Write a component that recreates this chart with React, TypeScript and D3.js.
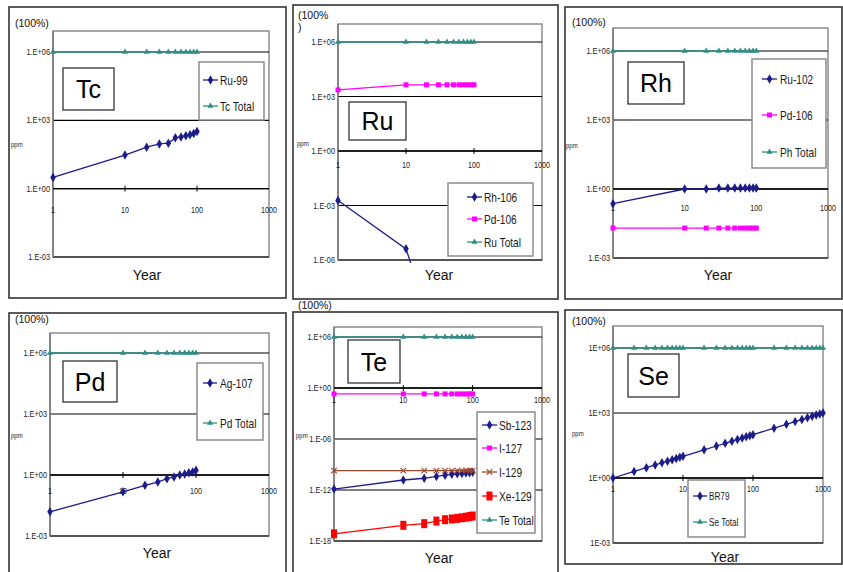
import React from 'react';
import * as d3 from 'd3';

// ---- shared axes ----
const years = [1, 10, 20, 30, 40, 50, 60, 70, 80, 90, 100];
const seYears = [1, 2, 3, 4, 5, 6, 7, 8, 9, 10, 20, 30, 40, 50, 60, 70, 80, 90, 100, 200, 300, 400, 500, 600, 700, 800, 900, 1000];
const xTicks = [1, 10, 100, 1000];
const xTickLabels = ['1', '10', '100', '1000'];

const yTicks3 = [1e6, 1e3, 1, 1e-3];
const yLabels3 = ['1.E+06', '1.E+03', '1.E+00', '1.E-03'];
const ruYTicks = [1e6, 1e3, 1, 1e-3, 1e-6];
const ruYLabels = ['1.E+06', '1.E+03', '1.E+00', '1.E-03', '1.E-06'];
const teYTicks = [1e6, 1, 1e-6, 1e-12, 1e-18];
const teYLabels = ['1.E+06', '1.E+00', '1.E-06', '1.E-12', '1.E-18'];
const seYLabels = ['1E+06', '1E+03', '1E+00', '1E-03'];

// ---- Tc ----
const tcTotal = [1e6, 1e6, 1e6, 1e6, 1e6, 1e6, 1e6, 1e6, 1e6, 1e6, 1e6];
const ru99 = [3.1, 30, 66, 92, 99, 170, 187, 208, 231, 263, 324];

// ---- Ru ----
const ruTotal = [1e6, 1e6, 1e6, 1e6, 1e6, 1e6, 1e6, 1e6, 1e6, 1e6, 1e6];
const pd106Ru = [2300, 4400, 4400, 4400, 4400, 4400, 4400, 4400, 4400, 4400, 4400];
const rh106Years = [1, 10, 20];
const rh106 = [1.9e-3, 4.1e-6, 1.7e-9];

// ---- Rh ----
const rhTotal = [1e6, 1e6, 1e6, 1e6, 1e6, 1e6, 1e6, 1e6, 1e6, 1e6, 1e6];
const ru102 = [0.23, 1.0, 1.0, 1.1, 1.1, 1.1, 1.1, 1.1, 1.1, 1.1, 1.1];
const pd106Rh = [0.02, 0.02, 0.02, 0.02, 0.02, 0.02, 0.02, 0.02, 0.02, 0.02, 0.02];

// ---- Pd ----
const pdTotal = [1e6, 1e6, 1e6, 1e6, 1e6, 1e6, 1e6, 1e6, 1e6, 1e6, 1e6];
const ag107 = [0.0155, 0.15, 0.31, 0.45, 0.66, 0.8, 1.0, 1.12, 1.3, 1.4, 1.7];

// ---- Te ----
const teTotal = [1e6, 1e6, 1e6, 1e6, 1e6, 1e6, 1e6, 1e6, 1e6, 1e6, 1e6];
const i127 = [0.2, 0.2, 0.2, 0.2, 0.2, 0.2, 0.2, 0.2, 0.2, 0.2, 0.2];
const i129 = [1.9e-10, 1.9e-10, 1.9e-10, 1.9e-10, 1.9e-10, 1.9e-10, 1.9e-10, 1.9e-10, 1.9e-10, 1.9e-10, 1.9e-10];
const sb123 = [1.3e-12, 1.5e-11, 2.4e-11, 4e-11, 5.5e-11, 7e-11, 8e-11, 9e-11, 1e-10, 1.1e-10, 1.2e-10];
const xe129 = [7e-18, 7e-17, 1.1e-16, 2.2e-16, 3.2e-16, 3.9e-16, 4.6e-16, 5.4e-16, 6.3e-16, 7.5e-16, 8.7e-16];

// ---- Se ----
const seTotal = seYears.map(() => 1e6);
const br79 = [1, 2, 3, 4, 5, 6, 7, 8, 9, 10, 20, 30, 40, 50, 60, 70, 80, 90, 100, 200, 300, 400, 500, 600, 700, 800, 900, 1000];

const NAVY = '#1c1c8a';
const TEAL = '#2f8f85';
const MAGENTA = '#ff00ff';
const BROWN = '#9c4a2c';
const RED = '#ff0000';

const ARIAL = "'Liberation Sans', Arial, sans-serif";

type MarkerKind = 'diamond' | 'triangle' | 'square' | 'bigsquare' | 'x';

interface Series {
  label: string;
  xs: number[];
  ys: number[];
  color: string;
  marker: MarkerKind;
}

type Box = [number, number, number, number];

interface PanelCfg {
  id: string;
  frame: Box;
  plot: Box;
  yLo: number;
  yLoPx: number;
  yHi: number;
  yHiPx: number;
  yTicks: number[];
  yLabels: string[];
  xLabelDy: number;
  pct: { x: number; y: number; lines: string[] };
  ppm: [number, number];
  year: [number, number];
  tag: { text: string; box: Box };
  legend: { box: Box; rows: number[]; lineX: [number, number]; textX: number; fontSize: number };
  series: Series[];
}

const diamondPath = d3.symbol().type(d3.symbolDiamond).size(26)() || '';
const trianglePath = d3.symbol().type(d3.symbolTriangle).size(16)() || '';
const timesPath = d3.symbol().type(d3.symbolTimes).size(22)() || '';

// condensed text (the original uses a narrow Japanese UI font)
const Narrow: React.FC<{
  x: number;
  y: number;
  size: number;
  sx?: number;
  anchor?: 'start' | 'middle' | 'end';
  dy?: string;
  children: React.ReactNode;
}> = ({ x, y, size, sx = 0.8, anchor = 'start', dy, children }) => (
  <text
    transform={`translate(${x},${y}) scale(${sx},1)`}
    textAnchor={anchor}
    dy={dy}
    fontFamily={ARIAL}
    fontSize={size}
    fill="#1a1a1a"
  >
    {children}
  </text>
);

const Marker: React.FC<{ kind: MarkerKind; x: number; y: number; color: string }> = ({ kind, x, y, color }) => {
  const t = `translate(${x},${y})`;
  if (kind === 'diamond') return <path d={diamondPath} transform={t} fill={color} />;
  if (kind === 'triangle') return <path d={trianglePath} transform={t} fill={color} />;
  if (kind === 'square') return <rect x={x - 2.5} y={y - 2.5} width={5} height={5} fill={color} />;
  if (kind === 'bigsquare') return <rect x={x - 3} y={y - 4.5} width={6} height={9} fill={color} />;
  return <path d={timesPath} transform={t} fill="none" stroke={color} strokeWidth={1.1} />;
};

const panels: PanelCfg[] = [
  {
    id: 'tc',
    frame: [9, 7, 286, 298],
    plot: [53, 31, 269, 257],
    yLo: 1e-3, yLoPx: 257, yHi: 1e6, yHiPx: 52,
    yTicks: yTicks3, yLabels: yLabels3,
    xLabelDy: 24,
    pct: { x: 15, y: 27, lines: ['(100%)'] },
    ppm: [11, 147],
    year: [147, 280],
    tag: { text: 'Tc', box: [63, 68, 114, 110] },
    legend: { box: [199, 62, 264, 120], rows: [80, 106], lineX: [203, 218], textX: 220, fontSize: 13 },
    series: [
      { label: 'Ru-99', xs: years, ys: ru99, color: NAVY, marker: 'diamond' },
      { label: 'Tc Total', xs: years, ys: tcTotal, color: TEAL, marker: 'triangle' },
    ],
  },
  {
    id: 'ru',
    frame: [293, 5, 558, 299],
    plot: [338, 24, 542, 260],
    yLo: 1e-6, yLoPx: 260, yHi: 1e6, yHiPx: 42,
    yTicks: ruYTicks, yLabels: ruYLabels,
    xLabelDy: 17,
    pct: { x: 298, y: 19, lines: ['(100%', ')'] },
    ppm: [297, 146],
    year: [439, 280],
    tag: { text: 'Ru', box: [349, 102, 406, 140] },
    legend: { box: [448, 183, 533, 256], rows: [197, 219, 242], lineX: [467, 482], textX: 484, fontSize: 13 },
    series: [
      { label: 'Rh-106', xs: rh106Years, ys: rh106, color: NAVY, marker: 'diamond' },
      { label: 'Pd-106', xs: years, ys: pd106Ru, color: MAGENTA, marker: 'square' },
      { label: 'Ru Total', xs: years, ys: ruTotal, color: TEAL, marker: 'triangle' },
    ],
  },
  {
    id: 'rh',
    frame: [565, 7, 842, 299],
    plot: [613, 28, 828, 258],
    yLo: 1e-3, yLoPx: 258, yHi: 1e6, yHiPx: 51,
    yTicks: yTicks3, yLabels: yLabels3,
    xLabelDy: 22,
    pct: { x: 572, y: 26, lines: ['(100%)'] },
    ppm: [566, 148],
    year: [718, 280],
    tag: { text: 'Rh', box: [628, 62, 684, 104] },
    legend: { box: [752, 59, 826, 168], rows: [79, 115, 152], lineX: [762, 777], textX: 780, fontSize: 13 },
    series: [
      { label: 'Ru-102', xs: years, ys: ru102, color: NAVY, marker: 'diamond' },
      { label: 'Pd-106', xs: years, ys: pd106Rh, color: MAGENTA, marker: 'square' },
      { label: 'Ph Total', xs: years, ys: rhTotal, color: TEAL, marker: 'triangle' },
    ],
  },
  {
    id: 'pd',
    frame: [9, 313, 286, 580],
    plot: [50, 333, 269, 536],
    yLo: 1e-3, yLoPx: 536, yHi: 1e6, yHiPx: 353,
    yTicks: yTicks3, yLabels: yLabels3,
    xLabelDy: 19,
    pct: { x: 15, y: 323, lines: ['(100%)'] },
    ppm: [11, 438],
    year: [157, 558],
    tag: { text: 'Pd', box: [63, 361, 117, 402] },
    legend: { box: [197, 363, 263, 440], rows: [383, 423], lineX: [203, 217], textX: 220, fontSize: 13 },
    series: [
      { label: 'Ag-107', xs: years, ys: ag107, color: NAVY, marker: 'diamond' },
      { label: 'Pd Total', xs: years, ys: pdTotal, color: TEAL, marker: 'triangle' },
    ],
  },
  {
    id: 'te',
    frame: [293, 312, 558, 580],
    plot: [334, 327, 542, 541],
    yLo: 1e-18, yLoPx: 541, yHi: 1e6, yHiPx: 337,
    yTicks: teYTicks, yLabels: teYLabels,
    xLabelDy: 15,
    pct: { x: 298, y: 309, lines: ['(100%)'] },
    ppm: [296, 438],
    year: [439, 563],
    tag: { text: 'Te', box: [348, 340, 400, 383] },
    legend: { box: [477, 412, 535, 533], rows: [425, 448, 472, 496, 520], lineX: [482, 497], textX: 499, fontSize: 13 },
    series: [
      { label: 'Sb-123', xs: years, ys: sb123, color: NAVY, marker: 'diamond' },
      { label: 'I-127', xs: years, ys: i127, color: MAGENTA, marker: 'square' },
      { label: 'I-129', xs: years, ys: i129, color: BROWN, marker: 'x' },
      { label: 'Xe-129', xs: years, ys: xe129, color: RED, marker: 'bigsquare' },
      { label: 'Te Total', xs: years, ys: teTotal, color: TEAL, marker: 'triangle' },
    ],
  },
  {
    id: 'se',
    frame: [565, 310, 842, 564],
    plot: [613, 326, 823, 543],
    yLo: 1e-3, yLoPx: 543, yHi: 1e6, yHiPx: 348,
    yTicks: yTicks3, yLabels: seYLabels,
    xLabelDy: 14,
    pct: { x: 572, y: 325, lines: ['(100%)'] },
    ppm: [572, 436],
    year: [725, 562],
    tag: { text: 'Se', box: [628, 354, 679, 397] },
    legend: { box: [688, 480, 745, 537], rows: [496, 522], lineX: [693, 707], textX: 709, fontSize: 10.5 },
    series: [
      { label: 'BR79', xs: seYears, ys: br79, color: NAVY, marker: 'diamond' },
      { label: 'Se Total', xs: seYears, ys: seTotal, color: TEAL, marker: 'triangle' },
    ],
  },
];

const Panel: React.FC<{ cfg: PanelCfg }> = ({ cfg }) => {
  const [px0, py0, px1, py1] = cfg.plot;
  const x = d3.scaleLog().domain([1, 1000]).range([px0, px1]);
  const y = d3.scaleLog().domain([cfg.yLo, cfg.yHi]).range([cfg.yLoPx, cfg.yHiPx]);
  const axisY = y(1);
  const line = d3
    .line<[number, number]>()
    .x((d) => x(d[0]))
    .y((d) => y(d[1]));
  const clipId = `clip-${cfg.id}`;
  const [fx0, fy0, fx1, fy1] = cfg.frame;
  const lg = cfg.legend;

  return (
    <g>
      <defs>
        <clipPath id={clipId}>
          <rect x={px0 - 3} y={py0 - 3} width={px1 - px0 + 6} height={py1 - py0 + 6} />
        </clipPath>
      </defs>
      {/* outer frame */}
      <rect x={fx0} y={fy0} width={fx1 - fx0} height={fy1 - fy0} fill="#fff" stroke="#333" strokeWidth={1.6} />

      {/* plot area */}
      <rect x={px0} y={py0} width={px1 - px0} height={py1 - py0} fill="#fff" stroke="#8c8c8c" strokeWidth={1.5} />
      {cfg.yTicks.map((v) => (
        <line key={`g${v}`} x1={px0} x2={px1} y1={y(v)} y2={y(v)} stroke="#000" strokeWidth={1.2} />
      ))}
      <line x1={px0} x2={px0} y1={py0} y2={py1} stroke="#7a7a7a" strokeWidth={1.5} />

      {/* x axis crossing at 1 */}
      <line x1={px0} x2={px1} y1={axisY} y2={axisY} stroke="#000" strokeWidth={1.3} />
      {xTicks.map((v, i) => (
        <g key={`xt${v}`}>
          {i > 0 && i < xTicks.length - 1 && (
            <line x1={x(v)} x2={x(v)} y1={axisY - 3} y2={axisY + 3} stroke="#000" strokeWidth={1} />
          )}
          <Narrow x={x(v)} y={axisY + cfg.xLabelDy} size={9} sx={0.8} anchor="middle">
            {xTickLabels[i]}
          </Narrow>
        </g>
      ))}

      {/* y tick labels */}
      {cfg.yTicks.map((v, i) => (
        <Narrow key={`yl${v}`} x={px0 - 3} y={y(v)} dy="0.35em" size={9} sx={0.82} anchor="end">
          {cfg.yLabels[i]}
        </Narrow>
      ))}

      {/* series */}
      <g clipPath={`url(#${clipId})`}>
        {cfg.series.map((s) => {
          const pts = s.xs.map((xv, i) => [xv, s.ys[i]] as [number, number]);
          return (
            <g key={s.label}>
              <path d={line(pts) || ''} fill="none" stroke={s.color} strokeWidth={1.3} />
              {pts.map((p, i) => (
                <Marker key={i} kind={s.marker} x={x(p[0])} y={y(p[1])} color={s.color} />
              ))}
            </g>
          );
        })}
      </g>

      {/* labels */}
      {cfg.pct.lines.map((t, i) => (
        <text key={t} x={cfg.pct.x} y={cfg.pct.y + i * 12} fontFamily={ARIAL} fontSize={10.5} fill="#111">
          {t}
        </text>
      ))}
      <Narrow x={cfg.ppm[0]} y={cfg.ppm[1]} size={7.5} sx={0.8}>
        ppm
      </Narrow>
      <text x={cfg.year[0]} y={cfg.year[1]} textAnchor="middle" fontFamily={ARIAL} fontSize={14} fill="#111">
        Year
      </text>

      {/* element tag box */}
      <rect
        x={cfg.tag.box[0]}
        y={cfg.tag.box[1]}
        width={cfg.tag.box[2] - cfg.tag.box[0]}
        height={cfg.tag.box[3] - cfg.tag.box[1]}
        fill="#fff"
        stroke="#222"
        strokeWidth={1.2}
      />
      <text
        x={(cfg.tag.box[0] + cfg.tag.box[2]) / 2}
        y={(cfg.tag.box[1] + cfg.tag.box[3]) / 2}
        dy="0.36em"
        textAnchor="middle"
        fontFamily={ARIAL}
        fontSize={25}
        fill="#000"
      >
        {cfg.tag.text}
      </text>

      {/* legend */}
      <rect
        x={lg.box[0]}
        y={lg.box[1]}
        width={lg.box[2] - lg.box[0]}
        height={lg.box[3] - lg.box[1]}
        fill="#fff"
        stroke="#8c8c8c"
        strokeWidth={1.5}
      />
      {cfg.series.map((s, i) => {
        const ry = lg.rows[i];
        return (
          <g key={`lg${s.label}`}>
            <line x1={lg.lineX[0]} x2={lg.lineX[1]} y1={ry} y2={ry} stroke={s.color} strokeWidth={1.3} />
            <Marker kind={s.marker} x={(lg.lineX[0] + lg.lineX[1]) / 2} y={ry} color={s.color} />
            <Narrow x={lg.textX} y={ry} dy="0.36em" size={lg.fontSize} sx={0.78}>
              {s.label}
            </Narrow>
          </g>
        );
      })}
    </g>
  );
};

const App: React.FC = () => {
  return (
    <svg
      width={843}
      height={572}
      viewBox="0 0 843 572"
      style={{ position: 'absolute', left: 0, top: 0, background: '#fff' }}
    >
      <rect width={843} height={572} fill="#fff" />
      {panels.map((p) => (
        <Panel key={p.id} cfg={p} />
      ))}
    </svg>
  );
};

export default App;
